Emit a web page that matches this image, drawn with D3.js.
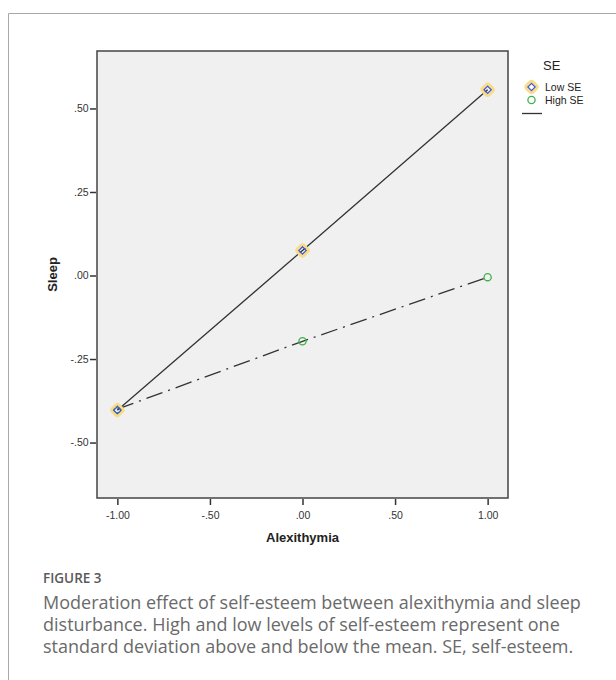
<!DOCTYPE html>
<html>
<head>
<meta charset="UTF-8">
<title>Figure 3</title>
<script src="https://cdn.jsdelivr.net/npm/d3@7"></script>
<style>
body { margin: 0; background: #fff; }
svg { display: block; }
</style>
</head>
<body>
<script>
// data
var xLevels = [-1, 0, 1];
var lowSE = [-0.403, 0.075, 0.556];
var highSE = [-0.400, -0.197, -0.005];
var xTicks = [-1, -0.5, 0, 0.5, 1];
var yTicks = [-0.5, -0.25, 0, 0.25, 0.5];
var captionLines = [
  "Moderation effect of self-esteem between alexithymia and sleep",
  "disturbance. High and low levels of self-esteem represent one",
  "standard deviation above and below the mean. SE, self-esteem."
];

var W = 616, H = 680;
var plot = {left: 97, top: 51, right: 508, bottom: 498};
var chartFont = "Liberation Sans, Arial, sans-serif";

var svg = d3.select("body").append("svg")
    .attr("width", W)
    .attr("height", H);

// outer frame (top + left)
svg.append("path")
    .attr("d", "M8.5," + H + "V13.5H" + W)
    .attr("fill", "none")
    .attr("stroke", "#a8a8a8")
    .attr("stroke-width", 1);

var x = d3.scaleLinear().domain([-1.11, 1.11]).range([plot.left, plot.right]);
var y = d3.scaleLinear().domain([-0.666, 0.672]).range([plot.bottom, plot.top]);

// SPSS style: ".50", "-.25"
var fmt = function(d) {
  var s = Math.abs(d).toFixed(2).replace(/^0\./, ".");
  return (d < 0 ? "-" : "") + s;
};

svg.append("rect")
    .attr("x", plot.left).attr("y", plot.top)
    .attr("width", plot.right - plot.left)
    .attr("height", plot.bottom - plot.top)
    .attr("fill", "#f0f0f0")
    .attr("stroke", "#444")
    .attr("stroke-width", 1.5);

// axes
var xAxis = svg.append("g")
    .attr("transform", "translate(0," + (plot.bottom + 1) + ")")
    .call(d3.axisBottom(x).tickValues(xTicks).tickFormat(fmt).tickSize(6).tickSizeOuter(0));
var yAxis = svg.append("g")
    .attr("transform", "translate(" + (plot.left - 1) + ",0)")
    .call(d3.axisLeft(y).tickValues(yTicks).tickFormat(fmt).tickSize(6).tickSizeOuter(0));

[xAxis, yAxis].forEach(function(a) {
  a.select(".domain").remove();
  a.selectAll(".tick line").attr("stroke", "#333").attr("stroke-width", 1.5);
  a.selectAll(".tick text")
      .attr("fill", "#333")
      .style("font-family", chartFont)
      .style("font-size", "10.5px");
});
xAxis.selectAll(".tick text").attr("dy", "1.05em");
yAxis.selectAll(".tick text").attr("dx", "0.15em");

// axis titles
svg.append("text")
    .attr("x", (plot.left + plot.right) / 2)
    .attr("y", 542)
    .attr("text-anchor", "middle")
    .style("font-family", chartFont)
    .style("font-weight", "bold")
    .style("font-size", "13px")
    .attr("fill", "#222")
    .text("Alexithymia");

svg.append("text")
    .attr("transform", "translate(57," + ((plot.top + plot.bottom) / 2) + ") rotate(-90)")
    .attr("text-anchor", "middle")
    .style("font-family", chartFont)
    .style("font-weight", "bold")
    .style("font-size", "13px")
    .attr("fill", "#222")
    .text("Sleep");

// lines
var line = d3.line()
    .x(function(d, i) { return x(xLevels[i]); })
    .y(function(d) { return y(d); });

svg.append("path")
    .datum(highSE)
    .attr("d", line)
    .attr("fill", "none")
    .attr("stroke", "#333")
    .attr("stroke-width", 1.3)
    .attr("stroke-dasharray", "17,6,2,6");

svg.append("path")
    .datum(lowSE)
    .attr("d", line)
    .attr("fill", "none")
    .attr("stroke", "#333")
    .attr("stroke-width", 1.3);

// markers
function drawLow(g, cx, cy) {
  g.append("rect")
      .attr("x", cx - 4.8).attr("y", cy - 4.8)
      .attr("width", 9.6).attr("height", 9.6)
      .attr("rx", 2.5)
      .attr("transform", "rotate(45," + cx + "," + cy + ")")
      .attr("fill", "none")
      .attr("stroke", "#f8dc86")
      .attr("stroke-width", 2.6);
  g.append("rect")
      .attr("x", cx - 2.6).attr("y", cy - 2.6)
      .attr("width", 5.2).attr("height", 5.2)
      .attr("transform", "rotate(45," + cx + "," + cy + ")")
      .attr("fill", "none")
      .attr("stroke", "#4a5cc0")
      .attr("stroke-width", 1.3);
}

function drawHigh(g, cx, cy) {
  g.append("circle")
      .attr("cx", cx).attr("cy", cy).attr("r", 3.6)
      .attr("fill", "none")
      .attr("stroke", "#3cb44a")
      .attr("stroke-width", 1.3);
}

var marks = svg.append("g");
highSE.forEach(function(v, i) { drawHigh(marks, x(xLevels[i]), y(v)); });
lowSE.forEach(function(v, i) { drawLow(marks, x(xLevels[i]), y(v)); });

// legend
var lg = svg.append("g");
lg.append("text")
    .attr("x", 543).attr("y", 70)
    .style("font-family", chartFont)
    .style("font-size", "13px")
    .attr("fill", "#222")
    .text("SE");
drawLow(lg, 531.5, 87);
drawHigh(lg, 531.5, 100);
lg.append("text")
    .attr("x", 545).attr("y", 91)
    .style("font-family", chartFont)
    .style("font-size", "10.5px")
    .attr("fill", "#222")
    .text("Low SE");
lg.append("text")
    .attr("x", 545).attr("y", 104)
    .style("font-family", chartFont)
    .style("font-size", "10.5px")
    .attr("fill", "#222")
    .text("High SE");
lg.append("line")
    .attr("x1", 522).attr("x2", 542)
    .attr("y1", 113.5).attr("y2", 113.5)
    .attr("stroke", "#333")
    .attr("stroke-width", 1.3);

// caption
svg.append("text")
    .attr("x", 43).attr("y", 583)
    .style("font-family", "Open Sans, sans-serif")
    .style("font-size", "13.5px")
    .style("font-weight", "600")
    .attr("fill", "#5a5a5a")
    .text("FIGURE 3");

svg.append("g").selectAll("text")
    .data(captionLines)
  .enter().append("text")
    .attr("x", 43)
    .attr("y", function(d, i) { return 609 + i * 22; })
    .style("font-family", "Open Sans, sans-serif")
    .style("font-size", "18px")
    .attr("fill", "#6a6a6a")
    .text(function(d) { return d; });
</script>
</body>
</html>
